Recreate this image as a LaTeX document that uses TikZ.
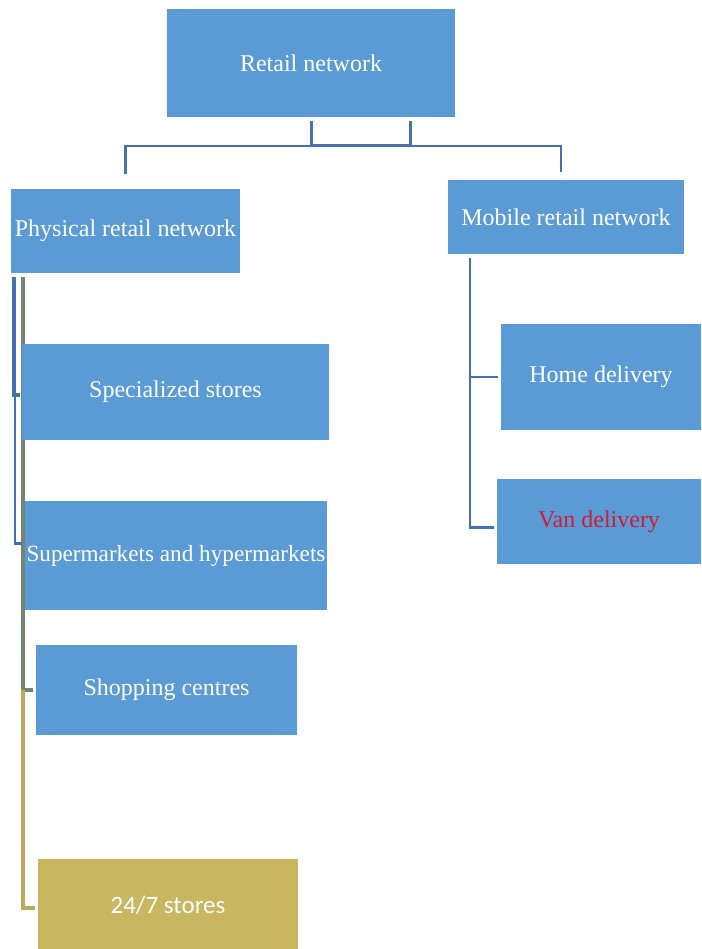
\documentclass[tikz,border=0pt]{standalone}
\usepackage{fontspec}
\setmainfont{Liberation Serif}
\newfontfamily\calibrifont{Carlito}
\usetikzlibrary{backgrounds}

\definecolor{boxblue}{RGB}{91,155,213}
\definecolor{boxgold}{RGB}{201,182,96}
\definecolor{lineblue}{RGB}{68,114,176}
\definecolor{linegrey}{RGB}{116,132,118}
\definecolor{linegold}{RGB}{190,170,92}
\definecolor{vanred}{RGB}{205,28,52}

\begin{document}
\begin{tikzpicture}[x=1pt,y=-1pt,
    unit/.style={fill=boxblue,text=white,inner sep=0pt,
        font=\fontsize{24}{28}\selectfont},
    goldunit/.style={unit,fill=boxgold,
        font=\calibrifont\fontsize{25}{30}\selectfont},
    link/.style={draw=lineblue,line width=2.2pt}]
    \useasboundingbox (0,0) rectangle (701,949);

    % top of the tree
    \node[unit,minimum width=288pt,minimum height=108pt] (retail) at (311,63) {Retail network};
    \node[unit,minimum width=229pt,minimum height=84pt] (physical) at (125.5,231) {Physical retail network};
    \node[unit,minimum width=236pt,minimum height=74pt] (mobile) at (566,217) {Mobile retail network};

    % physical branch
    \node[unit,minimum width=307pt,minimum height=96pt] (special) at (175.5,392) {Specialized stores};
    \node[unit,font=\fontsize{23.2}{28}\selectfont,minimum width=302pt,minimum height=109pt] (super) at (176,555.5) {Supermarkets and hypermarkets};
    \node[unit,minimum width=261pt,minimum height=90pt] (shop) at (166.5,690) {Shopping centres};
    \node[goldunit,minimum width=260pt,minimum height=92pt] (stores) at (168,905) {24/7 stores};

    % mobile branch
    \node[unit,minimum width=200pt,minimum height=106pt] (home) at (601,377) {Home delivery};
    \node[unit,text=vanred,minimum width=204pt,minimum height=85pt] (van) at (599,521.5) {Van delivery};

    \coordinate (busL) at (311,146);
    \coordinate (busR) at (410,146);

    \begin{scope}[on background layer]
        \draw[link,line width=3pt] ([yshift=-4pt]retail.south) -- (busL) -- (busR)
            -- ([xshift=99pt,yshift=-4pt]retail.south);
        \draw[link] ([yshift=15pt]physical.north) |- (busL) -| ([xshift=-5pt,yshift=8pt]mobile.north);

        \draw[draw=linegrey,line width=3.5pt] ([xshift=12pt,yshift=-4pt]physical.south west)
            |- ([xshift=-3pt]shop.west);
        \draw[draw=linegold,line width=4pt] ([xshift=-13pt]shop.west) |- ([xshift=-3pt,yshift=-3pt]stores.west);
        \draw[link,line width=4pt] ([xshift=3pt,yshift=-4pt]physical.south west)
            |- ([xshift=-2pt,yshift=-3pt]special.west);
        \draw[link] ([xshift=4pt]physical.west |- special.west) |- ([xshift=-3pt,yshift=12pt]super.west);

        \draw[link] ([xshift=22pt,yshift=-4pt]mobile.south west) |- ([xshift=-3pt]home.west);
        \draw[link] ([xshift=22pt,yshift=-4pt]mobile.south west) |- ([xshift=-3pt,yshift=-6pt]van.west);
    \end{scope}
\end{tikzpicture}
\end{document}
